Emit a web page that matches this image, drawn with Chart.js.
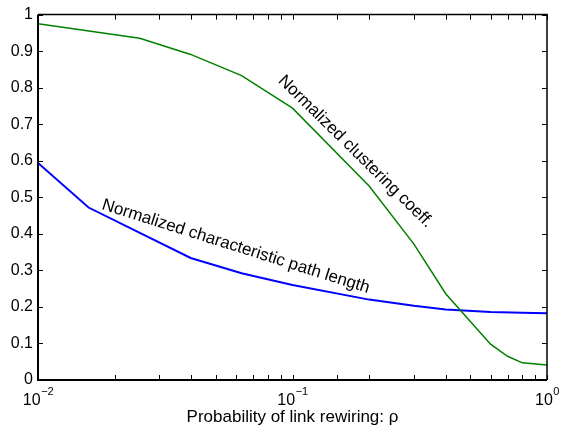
<!DOCTYPE html>
<html lang="en">
<head>
    <meta charset="UTF-8">
    <title>Small-world rewiring</title>
    <script src="https://cdn.jsdelivr.net/npm/chart.js@4.4.1/dist/chart.umd.min.js"></script>
    <style>
        body { margin: 0; background: #fff; }
        #box { width: 561px; height: 427px; position: relative; }
    </style>
</head>
<body>
    <div id="box">
        <canvas id="grafico"></canvas>
    </div>

    <script>
        // clustering coefficient C(p)/C(0)
        const rhoC = [0.01, 0.0251, 0.0398, 0.0631, 0.1, 0.2, 0.3, 0.4, 0.6, 0.7, 0.8, 1]
        const clustering = [0.975, 0.935, 0.891, 0.833, 0.744, 0.531, 0.372, 0.236, 0.098, 0.065, 0.047, 0.041]

        // characteristic path length L(p)/L(0)
        const rhoL = [0.01, 0.0158, 0.0398, 0.0631, 0.1, 0.2, 0.3, 0.4, 0.6, 0.8, 1]
        const pathLength = [0.594, 0.472, 0.334, 0.292, 0.26, 0.22, 0.203, 0.193, 0.186, 0.184, 0.183]

        const yTicks = [0, 0.1, 0.2, 0.3, 0.4, 0.5, 0.6, 0.7, 0.8, 0.9, 1]
        const xMajor = [0.01, 0.1, 1]
        const xMajorExp = ['\u22122', '\u22121', '0']

        const fonte = '"Liberation Sans", Arial, Helvetica, sans-serif'

        // text labels written on the curves: [text, rho, value, angle in degrees]
        const rotulos = [
            ['Normalized clustering coeff.', 0.0873, 0.817, 44.5],
            ['Normalized characteristic path length', 0.0177, 0.468, 17.5]
        ]

        function pares(xs, ys) {
            return xs.map((x, i) => ({ x: x, y: ys[i] }))
        }

        const eixosMatlab = {
            id: 'eixosMatlab',
            afterDraw(chart) {
                const ctx = chart.ctx
                const a = chart.chartArea
                const xs = chart.scales.x
                const ys = chart.scales.y
                ctx.save()
                ctx.strokeStyle = '#000'

                // inward tick marks
                ctx.lineWidth = 1
                const tl = 5
                ctx.beginPath()
                xs.ticks.forEach(t => {
                    const px = Math.round(xs.getPixelForValue(t.value)) + 0.5
                    ctx.moveTo(px, a.bottom); ctx.lineTo(px, a.bottom - tl)
                    ctx.moveTo(px, a.top); ctx.lineTo(px, a.top + tl)
                })
                yTicks.forEach(v => {
                    const py = Math.round(ys.getPixelForValue(v)) + 0.5
                    ctx.moveTo(a.left, py); ctx.lineTo(a.left + tl, py)
                    ctx.moveTo(a.right, py); ctx.lineTo(a.right - tl, py)
                })
                ctx.stroke()

                // box
                ctx.lineWidth = 1.5
                ctx.beginPath()
                ctx.moveTo(a.left, a.top); ctx.lineTo(a.right, a.top); ctx.lineTo(a.right, a.bottom)
                ctx.stroke()
                ctx.lineWidth = 2
                ctx.beginPath()
                ctx.moveTo(a.right, a.bottom); ctx.lineTo(a.left, a.bottom); ctx.lineTo(a.left, a.top)
                ctx.stroke()

                // x tick labels 10^n
                ctx.fillStyle = '#000'
                ctx.textBaseline = 'alphabetic'
                ctx.textAlign = 'left'
                xMajor.forEach((v, i) => {
                    const px = xs.getPixelForValue(v)
                    ctx.font = '16px ' + fonte
                    const wBase = ctx.measureText('10').width
                    ctx.font = '11px ' + fonte
                    const wExp = ctx.measureText(xMajorExp[i]).width
                    const x0 = px - (wBase + wExp) / 2
                    ctx.font = '16px ' + fonte
                    ctx.fillText('10', x0, a.bottom + 25)
                    ctx.font = '11px ' + fonte
                    ctx.fillText(xMajorExp[i], x0 + wBase + 0.5, a.bottom + 15)
                })

                // axis title
                ctx.font = '17px ' + fonte
                ctx.textAlign = 'center'
                ctx.fillText('Probability of link rewiring: \u03c1', (a.left + a.right) / 2, a.bottom + 42)

                // curve labels
                ctx.textAlign = 'left'
                rotulos.forEach(r => {
                    ctx.save()
                    ctx.translate(xs.getPixelForValue(r[1]), ys.getPixelForValue(r[2]))
                    ctx.rotate(r[3] * Math.PI / 180)
                    ctx.fillText(r[0], 0, 0)
                    ctx.restore()
                })
                ctx.restore()
            }
        }

        const ctx = document.getElementById('grafico').getContext('2d')
        const myChart = new Chart(ctx, {
            type: 'line',
            data: {
                datasets: [{
                    label: 'Normalized clustering coeff.',
                    data: pares(rhoC, clustering),
                    borderColor: '#008000',
                    borderWidth: 1.5,
                    pointRadius: 0,
                    tension: 0
                }, {
                    label: 'Normalized characteristic path length',
                    data: pares(rhoL, pathLength),
                    borderColor: '#0000ff',
                    borderWidth: 2,
                    pointRadius: 0,
                    tension: 0
                }]
            },
            options: {
                responsive: true,
                maintainAspectRatio: false,
                animation: false,
                layout: { padding: { top: 12, right: 14, left: 0, bottom: 0 } },
                plugins: {
                    legend: { display: false },
                    tooltip: { enabled: false }
                },
                scales: {
                    x: {
                        type: 'logarithmic',
                        min: 0.01,
                        max: 1,
                        grid: { display: false, drawTicks: false },
                        border: { display: false },
                        ticks: { display: false },
                        afterFit(s) { s.height = 47 }
                    },
                    y: {
                        min: 0,
                        max: 1,
                        grid: { display: false, drawTicks: false },
                        border: { display: false },
                        afterBuildTicks(s) { s.ticks = yTicks.map(v => ({ value: v })) },
                        ticks: {
                            color: '#000',
                            padding: 5,
                            font: { size: 16, family: fonte },
                            callback: v => (v === 0 || v === 1) ? String(v) : v.toFixed(1)
                        },
                        afterFit(s) { s.width = 38 }
                    }
                }
            },
            plugins: [eixosMatlab]
        });
    </script>
</body>
</html>
